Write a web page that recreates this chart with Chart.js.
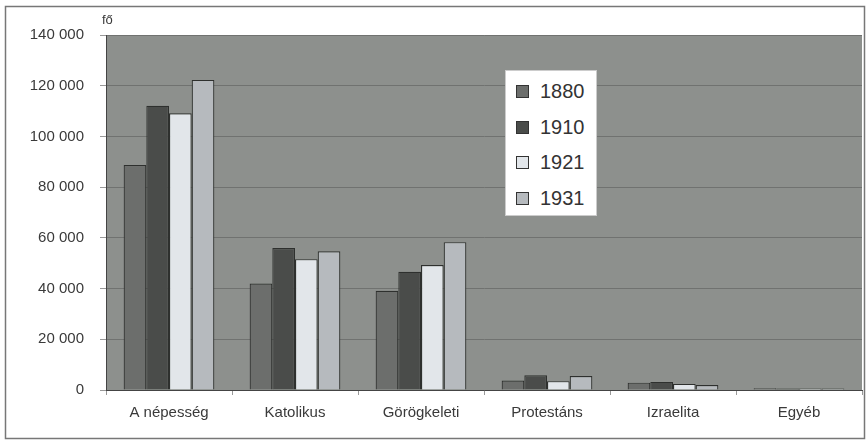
<!DOCTYPE html>
<html>
<head>
<meta charset="utf-8">
<script src="https://cdn.jsdelivr.net/npm/chart.js@4"></script>
<style>
  body { margin: 0; background: #fff; }
  #wrap { position: relative; width: 868px; height: 444px; }
  #unit { position: absolute; left: 102px; top: 12px; font: 13px "Liberation Sans", Arial, sans-serif; color: #3a3a3a; }
  #legend { position: absolute; left: 505px; top: 70px; width: 92px; height: 146px;
    background: #fff; border: 1px solid #ccc; box-sizing: border-box; padding-top: 8px;
    font: 20px "Liberation Sans", Arial, sans-serif; color: #333; }
  #legend div { height: 35.5px; line-height: 25px; padding-left: 10px; }
  #legend span { display: inline-block; width: 11px; height: 11px; border: 1px solid #333; margin-right: 11px; vertical-align: 0px; }
</style>
</head>
<body>
<div id="wrap">
  <canvas id="myChart" width="868" height="444"></canvas>
  <div id="unit">fő</div>
  <div id="legend"></div>
</div>
<script>
var categories = ["A népesség", "Katolikus", "Görögkeleti", "Protestáns", "Izraelita", "Egyéb"];
var years = ["1880", "1910", "1921", "1931"];
var v1880 = [88700, 42000, 39100, 3700, 2900, 700];
var v1910 = [112100, 56000, 46600, 5800, 3200, 600];
var v1921 = [109100, 51600, 49300, 3500, 2400, 600];
var v1931 = [122300, 54700, 58300, 5500, 2000, 600];
var yTicks = [0, 20000, 40000, 60000, 80000, 100000, 120000, 140000];
var colors = ["#6c6e6c", "#4a4c4a", "#e2e6ea", "#b6babe"];

var series = [v1880, v1910, v1921, v1931];

// legend
var leg = document.getElementById("legend");
years.forEach(function (y, i) {
  var row = document.createElement("div");
  row.innerHTML = '<span style="background:' + colors[i] + '"></span>' + y;
  leg.appendChild(row);
});

var bgPlugin = {
  id: "bg",
  beforeDraw: function (chart) {
    var c = chart.ctx, a = chart.chartArea;
    c.save();
    c.fillStyle = "#fff";
    c.fillRect(0, 0, chart.width, chart.height);
    c.strokeStyle = "#777";
    c.lineWidth = 1.5;
    c.strokeRect(5.5, 6.5, 859, 432);
    c.fillStyle = "#8d908d";
    c.fillRect(a.left, a.top, a.right - a.left, a.bottom - a.top);
    c.restore();
  }
};

new Chart("myChart", {
  type: "bar",
  data: {
    labels: categories,
    datasets: series.map(function (d, i) {
      return {
        label: years[i],
        data: d,
        backgroundColor: colors[i],
        borderColor: "#2e302e",
        borderWidth: 1.2,
        categoryPercentage: 0.72,
        barPercentage: 1
      };
    })
  },
  options: {
    responsive: false,
    animation: false,
    layout: { padding: { top: 35, right: 6, left: 0, bottom: 0 } },
    plugins: { legend: { display: false }, tooltip: { enabled: false } },
    scales: {
      x: {
        grid: { drawOnChartArea: false, tickLength: 5, color: "#999", offset: true },
        border: { color: "#444", width: 1 },
        ticks: { color: "#3a3a3a", padding: 9, font: { family: "Liberation Sans, Arial", size: 15 } },
        afterFit: function (s) { s.height = 54; }
      },
      y: {
        min: 0,
        max: 140000,
        afterBuildTicks: function (s) { s.ticks = yTicks.map(function (v) { return { value: v }; }); },
        grid: { color: "#707270", tickLength: 6, tickColor: "#999" },
        border: { color: "#444", width: 1 },
        ticks: {
          color: "#3a3a3a",
          padding: 16,
          font: { family: "Liberation Sans, Arial", size: 15 },
          callback: function (v) { return String(v).replace(/\B(?=(\d{3})+(?!\d))/g, " "); }
        },
        afterFit: function (s) { s.width = 106; }
      }
    }
  },
  plugins: [bgPlugin]
});
</script>
</body>
</html>
